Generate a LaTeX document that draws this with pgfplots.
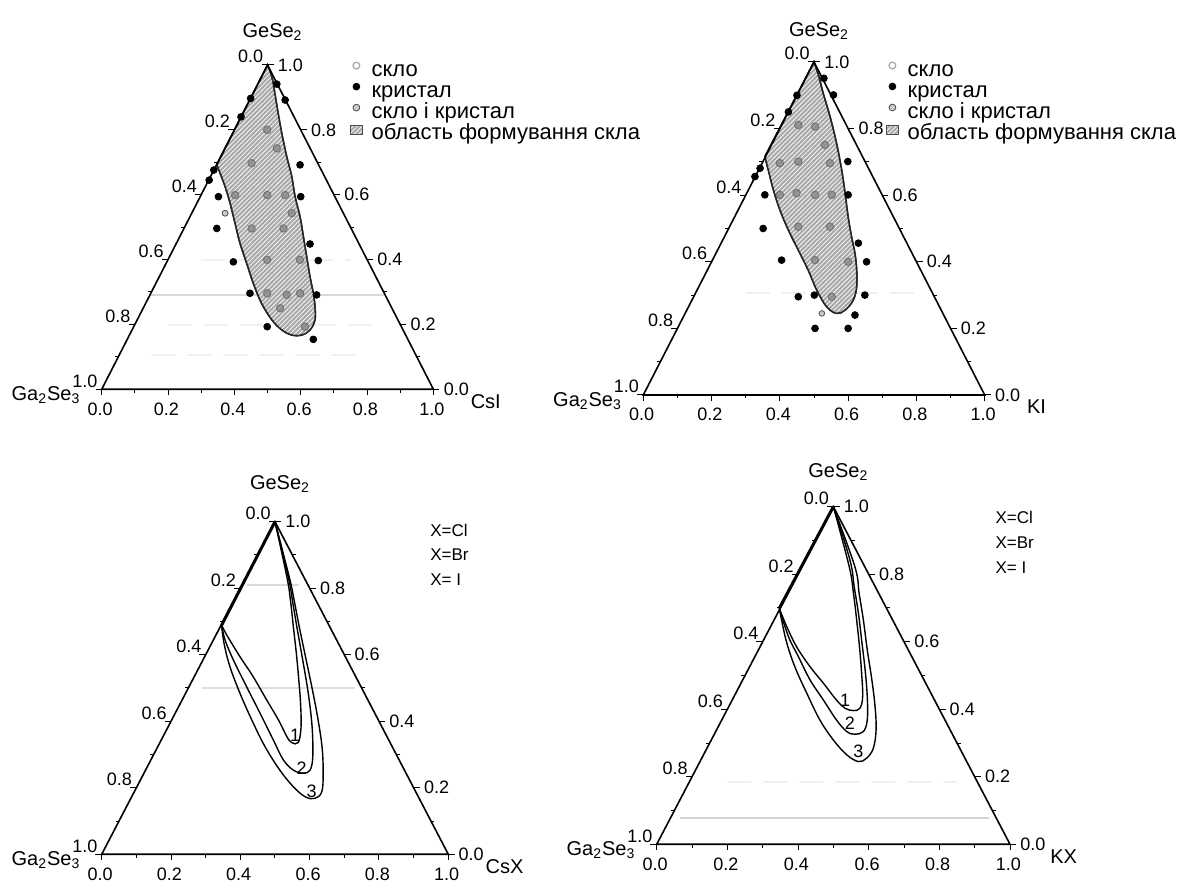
\documentclass[border=0pt]{standalone}
\usepackage{fontspec}
\setmainfont{Liberation Sans}
\usepackage{pgfplots}
\pgfplotsset{compat=1.18}
\usetikzlibrary{patterns.meta}

\tikzset{
 tl/.style={font=\fontsize{9}{10}\selectfont, inner sep=0.5pt, anchor=north, yshift=-6pt, xshift=-0.8pt},
 ll/.style={font=\fontsize{9}{10}\selectfont, inner sep=0.5pt, anchor=south east, xshift=-1.5pt, yshift=0.3pt},
 rl/.style={font=\fontsize{9}{10}\selectfont, inner sep=0.5pt, anchor=west, xshift=4.5pt},
 vl/.style={font=\fontsize{10}{12}\selectfont, inner sep=0pt},
 cl/.style={font=\fontsize{9}{10}\selectfont, inner sep=0pt},
 xl/.style={font=\fontsize{8.5}{10}\selectfont, inner sep=0pt, anchor=west},
 glassfill/.style={fill=gray!68, postaction={pattern={Lines[angle=45,distance=1.6pt,line width=0.45pt]}, pattern color=white!92!gray}},
}
\pgfplotsset{
 tern/.style={scale only axis, hide axis, clip=false, xmin=0, xmax=1, ymin=0, ymax=1, anchor=south west},
 ternleg/.style={legend style={anchor=north west, draw=none, fill=none, inner sep=0pt, row sep=0pt,
   font=\fontsize{11}{12}\selectfont, nodes={inner sep=0.6pt, text height=7.3pt, text depth=2pt},
   /tikz/every odd column/.style={column sep=4pt}}, legend cell align=left},
}

\newcommand\ternframe[3]{%
 \addplot[forget plot, black, line width=0.5pt, unbounded coords=jump] coordinates {
  (0,0)(0,-0.018) (nan,nan) (0.1,0)(0.1,-0.01) (nan,nan) (0.2,0)(0.2,-0.018) (nan,nan)
  (0.3,0)(0.3,-0.01) (nan,nan) (0.4,0)(0.4,-0.018) (nan,nan) (0.5,0)(0.5,-0.01) (nan,nan)
  (0.6,0)(0.6,-0.018) (nan,nan) (0.7,0)(0.7,-0.01) (nan,nan) (0.8,0)(0.8,-0.018) (nan,nan)
  (0.9,0)(0.9,-0.01) (nan,nan) (1,0)(1,-0.018)};
 \addplot[forget plot, black, line width=0.5pt, unbounded coords=jump] coordinates {
  (0.5,1)(0.482,1) (nan,nan) (0.45,0.9)(0.44,0.9) (nan,nan) (0.4,0.8)(0.382,0.8) (nan,nan)
  (0.35,0.7)(0.34,0.7) (nan,nan) (0.3,0.6)(0.282,0.6) (nan,nan) (0.25,0.5)(0.24,0.5) (nan,nan)
  (0.2,0.4)(0.182,0.4) (nan,nan) (0.15,0.3)(0.14,0.3) (nan,nan) (0.1,0.2)(0.082,0.2) (nan,nan)
  (0.05,0.1)(0.04,0.1) (nan,nan) (0,0)(-0.018,0)};
 \addplot[forget plot, black, line width=0.5pt, unbounded coords=jump] coordinates {
  (1,0)(1.018,0) (nan,nan) (0.95,0.1)(0.96,0.1) (nan,nan) (0.9,0.2)(0.918,0.2) (nan,nan)
  (0.85,0.3)(0.86,0.3) (nan,nan) (0.8,0.4)(0.818,0.4) (nan,nan) (0.75,0.5)(0.76,0.5) (nan,nan)
  (0.7,0.6)(0.718,0.6) (nan,nan) (0.65,0.7)(0.66,0.7) (nan,nan) (0.6,0.8)(0.618,0.8) (nan,nan)
  (0.55,0.9)(0.56,0.9) (nan,nan) (0.5,1)(0.518,1)};
 \addplot[forget plot, black, line width=0.8pt] coordinates {(0,0)(1,0)(0.5,1)(0,0)} -- cycle;
 \node[tl] at (axis cs:0,0) {0.0};
 \node[tl] at (axis cs:0.2,0) {0.2};
 \node[tl] at (axis cs:0.4,0) {0.4};
 \node[tl] at (axis cs:0.6,0) {0.6};
 \node[tl] at (axis cs:0.8,0) {0.8};
 \node[tl] at (axis cs:1,0) {1.0};
 \node[ll] at (axis cs:0.5,1) {0.0};
 \node[ll] at (axis cs:0.4,0.8) {0.2};
 \node[ll] at (axis cs:0.3,0.6) {0.4};
 \node[ll] at (axis cs:0.2,0.4) {0.6};
 \node[ll] at (axis cs:0.1,0.2) {0.8};
 \node[ll] at (axis cs:0,0) {1.0};
 \node[rl] at (axis cs:1,0) {0.0};
 \node[rl] at (axis cs:0.9,0.2) {0.2};
 \node[rl] at (axis cs:0.8,0.4) {0.4};
 \node[rl] at (axis cs:0.7,0.6) {0.6};
 \node[rl] at (axis cs:0.6,0.8) {0.8};
 \node[rl] at (axis cs:0.5,1) {1.0};
 \node[vl, anchor=base, xshift=2.5pt, yshift=#2] at (axis cs:0.5,1) {GeSe\textsubscript{2}};
 \node[vl, anchor=east, xshift=-10.5pt, yshift=-2.8pt] at (axis cs:0,0) {Ga\textsubscript{2}Se\textsubscript{3}};
 \node[vl, anchor=west, xshift=#3, yshift=-6pt] at (axis cs:1,0) {#1};
}

\begin{document}
\begin{tikzpicture}
\useasboundingbox (0,0) rectangle (594.5pt,441pt);

% ---------------- panel 1: GeSe2-Ga2Se3-CsI ----------------
\begin{axis}[tern, at={(50.85pt,246.35pt)}, width=165.85pt, height=162.15pt,
  ternleg, legend style={at={(0.7486,1.015)}},
  legend image code/.code={\draw[#1] plot coordinates {(0.1cm,0.27em)};}]
\addplot[forget plot, gray!30, line width=0.8pt] coordinates {(0.146,0.291)(0.854,0.291)};
\addplot[forget plot, gray!12, line width=1pt, dash pattern=on 12pt off 6pt] coordinates {(0.30,0.398)(0.75,0.398)};
\addplot[forget plot, gray!12, line width=1pt, dash pattern=on 12pt off 6pt] coordinates {(0.20,0.198)(0.85,0.198)};
\addplot[forget plot, gray!12, line width=1pt, dash pattern=on 12pt off 6pt] coordinates {(0.15,0.106)(0.80,0.106)};
\addplot[forget plot, glassfill, draw=black!85, line width=0.75pt, smooth, tension=0.6] coordinates {
 (0.347,0.692) (0.357,0.666) (0.372,0.625) (0.387,0.574) (0.402,0.512) (0.417,0.450) (0.437,0.389)
 (0.457,0.327) (0.482,0.265) (0.513,0.214) (0.543,0.183) (0.573,0.167) (0.603,0.167) (0.628,0.183)
 (0.643,0.214) (0.643,0.255) (0.638,0.296) (0.628,0.347) (0.618,0.409) (0.608,0.471) (0.598,0.532)
 (0.583,0.594) (0.573,0.656) (0.558,0.717) (0.543,0.789) (0.532,0.851) (0.522,0.913) (0.513,0.964)
 (0.5,1)} -- cycle;
\ternframe{CsI}{13.5pt}{18.5pt}
\addplot[forget plot, only marks, mark=*, mark size=1.9pt, draw=gray!70!black, fill=gray, opacity=0.7] coordinates {
 (0.499,0.800) (0.528,0.743) (0.452,0.697) (0.402,0.599) (0.499,0.599) (0.553,0.599) (0.573,0.543)
 (0.452,0.496) (0.548,0.496) (0.499,0.399) (0.598,0.399) (0.499,0.296) (0.558,0.291) (0.598,0.296)
 (0.613,0.193) (0.538,0.250)};
\addplot[forget plot, only marks, mark=*, mark size=1.7pt, black] coordinates {
 (0.528,0.941) (0.553,0.892) (0.598,0.692) (0.600,0.594) (0.628,0.448) (0.653,0.397) (0.648,0.291)
 (0.638,0.154) (0.499,0.193) (0.447,0.296) (0.397,0.393) (0.347,0.496) (0.352,0.594) (0.324,0.645)
 (0.449,0.897) (0.420,0.840) (0.338,0.676)};
\addplot[forget plot, only marks, mark=*, mark size=1.5pt, draw=black!70, fill=gray!40] coordinates {(0.372,0.543)};
\addlegendimage{only marks, mark=o, mark size=1.7pt, draw=gray!70, mark options={line width=0.6pt}}
\addlegendentry{скло}
\addlegendimage{only marks, mark=*, mark size=1.7pt, black}
\addlegendentry{кристал}
\addlegendimage{only marks, mark=*, mark size=1.7pt, draw=black!70, fill=gray!40}
\addlegendentry{скло і кристал}
\addlegendimage{legend image code/.code={\draw[glassfill, draw=gray!60!black, line width=0.3pt] (0.0cm,0.0em) rectangle (0.2cm,0.45em);}}
\addlegendentry{область формування скла}
\end{axis}

% ---------------- panel 2: GeSe2-Ga2Se3-KI ----------------
\begin{axis}[tern, at={(321.65pt,243.5pt)}, width=170.7pt, height=166.5pt,
  ternleg, legend style={at={(0.711,1.006)}},
  legend image code/.code={\draw[#1] plot coordinates {(0.1cm,0.27em)};}]
\addplot[forget plot, gray!12, line width=1pt, dash pattern=on 12pt off 6pt] coordinates {(0.30,0.306)(0.80,0.306)};
\addplot[forget plot, glassfill, draw=black!85, line width=0.75pt, smooth, tension=0.6] coordinates {
 (0.356,0.716) (0.366,0.676) (0.381,0.616) (0.400,0.556) (0.425,0.495) (0.454,0.435) (0.483,0.375)
 (0.508,0.315) (0.537,0.265) (0.566,0.245) (0.591,0.255) (0.615,0.285) (0.625,0.325) (0.625,0.375)
 (0.620,0.425) (0.610,0.475) (0.600,0.535) (0.591,0.606) (0.581,0.676) (0.566,0.756) (0.547,0.836)
 (0.527,0.906) (0.513,0.961) (0.5,1)} -- cycle;
\ternframe{KI}{12.5pt}{21pt}
\addplot[forget plot, only marks, mark=*, mark size=1.9pt, draw=gray!70!black, fill=gray, opacity=0.7] coordinates {
 (0.454,0.811) (0.503,0.806) (0.532,0.751) (0.400,0.696) (0.454,0.701) (0.547,0.696) (0.400,0.601)
 (0.449,0.606) (0.503,0.601) (0.552,0.601) (0.454,0.505) (0.547,0.505) (0.503,0.405) (0.600,0.400)
 (0.552,0.295)};
\addplot[forget plot, only marks, mark=*, mark size=1.7pt, black] coordinates {
 (0.529,0.951) (0.557,0.901) (0.599,0.701) (0.600,0.601) (0.630,0.456) (0.654,0.400) (0.649,0.300)
 (0.620,0.240) (0.600,0.200) (0.503,0.200) (0.454,0.295) (0.501,0.300) (0.405,0.405) (0.351,0.500)
 (0.356,0.601) (0.327,0.656) (0.342,0.681) (0.450,0.900) (0.425,0.850)};
\addplot[forget plot, only marks, mark=*, mark size=1.4pt, draw=black!70, fill=gray!40] coordinates {(0.523,0.245)};
\addlegendimage{only marks, mark=o, mark size=1.7pt, draw=gray!70, mark options={line width=0.6pt}}
\addlegendentry{скло}
\addlegendimage{only marks, mark=*, mark size=1.7pt, black}
\addlegendentry{кристал}
\addlegendimage{only marks, mark=*, mark size=1.7pt, draw=black!70, fill=gray!40}
\addlegendentry{скло і кристал}
\addlegendimage{legend image code/.code={\draw[glassfill, draw=gray!60!black, line width=0.3pt] (0.0cm,0.0em) rectangle (0.2cm,0.45em);}}
\addlegendentry{область формування скла}
\end{axis}

% ---------------- panel 3: GeSe2-Ga2Se3-CsX ----------------
\begin{axis}[tern, at={(50.85pt,13.85pt)}, width=173.3pt, height=166.3pt]
\addplot[forget plot, gray!30, line width=0.8pt] coordinates {(0.42,0.81)(0.57,0.81)};
\addplot[forget plot, gray!25, line width=0.8pt] coordinates {(0.29,0.50)(0.73,0.50)};
\ternframe{CsX}{16pt}{18.5pt}
\addplot[forget plot, black, line width=1.5pt] coordinates {(0.5,1)(0.346,0.689)};
\addplot[forget plot, black, line width=0.7pt, smooth, tension=0.6] coordinates {
 (0.346,0.689) (0.361,0.659) (0.399,0.594) (0.437,0.534) (0.476,0.464) (0.510,0.404) (0.534,0.354)
 (0.548,0.336) (0.567,0.336) (0.575,0.380) (0.574,0.450) (0.569,0.520) (0.562,0.600) (0.553,0.684)
 (0.545,0.760) (0.535,0.830) (0.5,1)};
\addplot[forget plot, black, line width=0.7pt, smooth, tension=0.6] coordinates {
 (0.346,0.689) (0.356,0.644) (0.380,0.584) (0.418,0.504) (0.457,0.424) (0.495,0.344) (0.524,0.284)
 (0.553,0.253) (0.582,0.244) (0.601,0.253) (0.609,0.293) (0.607,0.384) (0.596,0.484) (0.580,0.584)
 (0.563,0.684) (0.550,0.765) (0.539,0.830) (0.5,1)};
\addplot[forget plot, black, line width=0.7pt, smooth, tension=0.6] coordinates {
 (0.346,0.689) (0.353,0.634) (0.370,0.564) (0.399,0.484) (0.433,0.404) (0.471,0.324) (0.514,0.253)
 (0.553,0.203) (0.587,0.173) (0.615,0.168) (0.635,0.188) (0.639,0.244) (0.636,0.320) (0.625,0.400)
 (0.610,0.484) (0.590,0.584) (0.570,0.684) (0.555,0.765) (0.542,0.830) (0.5,1)};
\node[cl] at (axis cs:0.558,0.359) {1};
\node[cl] at (axis cs:0.577,0.259) {2};
\node[cl] at (axis cs:0.606,0.188) {3};
\node[xl] at (axis cs:0.947,0.975) {X=Cl};
\node[xl] at (axis cs:0.947,0.900) {X=Br};
\node[xl] at (axis cs:0.947,0.825) {X= I};
\end{axis}

% ---------------- panel 4: GeSe2-Ga2Se3-KX ----------------
\begin{axis}[tern, at={(328.35pt,18.85pt)}, width=176.65pt, height=168.8pt]
\addplot[forget plot, gray!35, line width=0.8pt] coordinates {(0.066,0.078)(0.94,0.078)};
\addplot[forget plot, gray!12, line width=1pt, dash pattern=on 12pt off 6pt] coordinates {(0.20,0.185)(0.85,0.185)};
\ternframe{KX}{14.5pt}{20pt}
\addplot[forget plot, black, line width=1.5pt] coordinates {(0.5,1)(0.347,0.699)};
\addplot[forget plot, black, line width=0.7pt, smooth, tension=0.6] coordinates {
 (0.347,0.699) (0.368,0.645) (0.396,0.585) (0.434,0.526) (0.472,0.477) (0.509,0.427) (0.533,0.403)
 (0.557,0.396) (0.575,0.403) (0.583,0.437) (0.580,0.507) (0.574,0.585) (0.566,0.664) (0.557,0.743)
 (0.545,0.822) (0.5,1)};
\addplot[forget plot, black, line width=0.7pt, smooth, tension=0.6] coordinates {
 (0.347,0.699) (0.373,0.615) (0.401,0.556) (0.434,0.487) (0.472,0.427) (0.509,0.368) (0.538,0.334)
 (0.561,0.326) (0.585,0.334) (0.596,0.368) (0.596,0.437) (0.590,0.516) (0.580,0.605) (0.571,0.684)
 (0.559,0.763) (0.547,0.842) (0.5,1)};
\addplot[forget plot, black, line width=0.7pt, smooth, tension=0.6] coordinates {
 (0.347,0.699) (0.366,0.605) (0.391,0.526) (0.425,0.447) (0.462,0.368) (0.500,0.309) (0.538,0.265)
 (0.571,0.245) (0.594,0.255) (0.613,0.284) (0.621,0.339) (0.618,0.408) (0.609,0.487) (0.596,0.576)
 (0.585,0.664) (0.573,0.743) (0.561,0.822) (0.5,1)};
\node[cl] at (axis cs:0.533,0.427) {1};
\node[cl] at (axis cs:0.547,0.360) {2};
\node[cl] at (axis cs:0.571,0.274) {3};
\node[xl] at (axis cs:0.958,0.967) {X=Cl};
\node[xl] at (axis cs:0.958,0.893) {X=Br};
\node[xl] at (axis cs:0.958,0.818) {X= I};
\end{axis}
\end{tikzpicture}
\end{document}
